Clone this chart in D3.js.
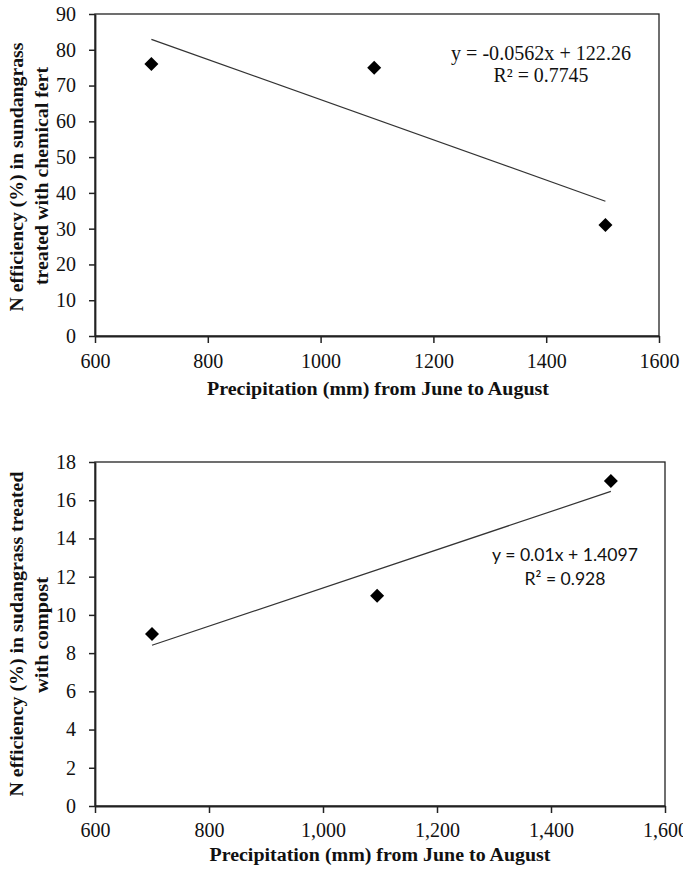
<!DOCTYPE html>
<html>
<head>
<meta charset="utf-8">
<script src="https://cdn.jsdelivr.net/npm/d3@7"></script>
<style>
  html, body { margin: 0; padding: 0; background: #fff; }
  svg { display: block; }
</style>
</head>
<body>
<svg id="chart" width="683" height="873"></svg>
<script>
// Observed precipitation (June–August, mm) and nitrogen efficiency (%)
const precipitation = [700, 1095, 1505];
const efficiencyChemical = [76, 75, 31];
const efficiencyCompost = [9, 11, 17];

// Linear fits as reported on each panel: [slope, intercept]
const fitChemical = [-0.0562, 122.26];
const fitCompost = [0.01, 1.4097];
const labelChemical = ["y = -0.0562x + 122.26", "R\u00B2 = 0.7745"];
const labelCompost = ["y = 0.01x + 1.4097", "R\u00B2 = 0.928"];

// Axis ticks
const xTicks = [600, 800, 1000, 1200, 1400, 1600];
const yTicksChemical = [0, 10, 20, 30, 40, 50, 60, 70, 80, 90];
const yTicksCompost = [0, 2, 4, 6, 8, 10, 12, 14, 16, 18];

const xTitle = "Precipitation (mm) from June to August";
const yTitleChemical = ["N efficiency (%) in sundangrass", "treated with chemical fert"];
const yTitleCompost = ["N efficiency (%) in sudangrass treated", "with compost"];

const svg = d3.select("#chart");
const SERIF = "'Liberation Serif', 'Times New Roman', serif";

function drawPanel(p) {
  const x = d3.scaleLinear().domain([600, 1600]).range([p.left, p.right]);
  const y = d3.scaleLinear().domain(p.yDomain).range([p.bottom, p.top]);
  const g = svg.append("g");

  // plot frame
  g.append("rect")
    .attr("x", p.left).attr("y", p.top)
    .attr("width", p.right - p.left).attr("height", p.bottom - p.top)
    .attr("fill", "none").attr("stroke", "#222").attr("stroke-width", 1.3);

  // y axis
  const ya = g.append("g")
    .attr("transform", `translate(${p.left},0)`)
    .call(d3.axisLeft(y).tickValues(p.yTicks).tickSize(6).tickSizeOuter(0).tickPadding(13));
  ya.select(".domain").attr("stroke", "#222").attr("stroke-width", 1.8);
  ya.selectAll(".tick line").attr("stroke", "#222").attr("stroke-width", 1.5);
  ya.selectAll(".tick text")
    .attr("font-family", SERIF).attr("font-size", 20).attr("fill", "#111");

  // x axis
  const xa = g.append("g")
    .attr("transform", `translate(0,${p.bottom})`)
    .call(d3.axisBottom(x).tickValues(xTicks).tickSize(7).tickSizeOuter(0)
      .tickPadding(p.xPad).tickFormat(p.xFormat));
  xa.select(".domain").attr("stroke", "#222").attr("stroke-width", 1.8);
  xa.selectAll(".tick line").attr("stroke", "#222").attr("stroke-width", 1.5);
  xa.selectAll(".tick text")
    .attr("font-family", SERIF).attr("font-size", 20).attr("fill", "#111");

  // trend line over the observed range
  const xs = d3.extent(precipitation);
  g.append("line")
    .attr("x1", x(xs[0])).attr("y1", y(p.fit[0] * xs[0] + p.fit[1]))
    .attr("x2", x(xs[1])).attr("y2", y(p.fit[0] * xs[1] + p.fit[1]))
    .attr("stroke", "#333").attr("stroke-width", 1.2);

  // diamond markers
  const diamond = d3.symbol(d3.symbolSquare, 98);
  g.selectAll("path.pt")
    .data(precipitation.map((v, i) => [v, p.values[i]]))
    .join("path")
    .attr("class", "pt")
    .attr("d", diamond)
    .attr("transform", d => `translate(${x(d[0])},${y(d[1])}) rotate(45)`)
    .attr("fill", "#000");

  // regression label
  p.label.forEach((t, i) => {
    g.append("text")
      .attr("x", p.labelX).attr("y", p.labelY[i])
      .attr("text-anchor", "middle")
      .attr("font-family", p.labelFont).attr("font-size", p.labelSize)
      .attr("textLength", p.labelLen[i]).attr("lengthAdjust", "spacingAndGlyphs")
      .attr("fill", "#111")
      .text(t);
  });

  // x axis title
  g.append("text")
    .attr("x", p.xTitleX).attr("y", p.xTitleY)
    .attr("text-anchor", "middle")
    .attr("font-family", SERIF).attr("font-weight", "bold").attr("font-size", 18)
    .attr("textLength", p.xTitleLen).attr("lengthAdjust", "spacingAndGlyphs")
    .attr("fill", "#111")
    .text(xTitle);

  // y axis title (two lines)
  p.yTitle.forEach((t, i) => {
    g.append("text")
      .attr("transform", `translate(${p.yTitleX[i]},${p.yTitleC[i]}) rotate(-90)`)
      .attr("text-anchor", "middle")
      .attr("font-family", SERIF).attr("font-weight", "bold").attr("font-size", 18)
      .attr("textLength", p.yTitleLen[i]).attr("lengthAdjust", "spacingAndGlyphs")
      .attr("fill", "#111")
      .text(t);
  });
}

drawPanel({
  left: 95, right: 659, top: 14, bottom: 336,
  yDomain: [0, 90], yTicks: yTicksChemical,
  xFormat: d3.format("d"), xPad: 11,
  values: efficiencyChemical, fit: fitChemical,
  label: labelChemical, labelX: 541, labelY: [60, 82], labelLen: [180, 95],
  labelFont: SERIF, labelSize: 20,
  xTitleX: 378, xTitleY: 395, xTitleLen: 342,
  yTitle: yTitleChemical, yTitleX: [23, 48], yTitleC: [177, 176], yTitleLen: [269, 218]
});

drawPanel({
  left: 95, right: 665, top: 462, bottom: 806,
  yDomain: [0, 18], yTicks: yTicksCompost,
  xFormat: d3.format(","), xPad: 10,
  values: efficiencyCompost, fit: fitCompost,
  label: labelCompost, labelX: 565, labelY: [561, 585], labelLen: [146, 81],
  labelFont: "Lato, 'Open Sans', sans-serif", labelSize: 18,
  xTitleX: 380, xTitleY: 861, xTitleLen: 341,
  yTitle: yTitleCompost, yTitleX: [23, 48], yTitleC: [634, 635], yTitleLen: [325, 116]
});
</script>
</body>
</html>
